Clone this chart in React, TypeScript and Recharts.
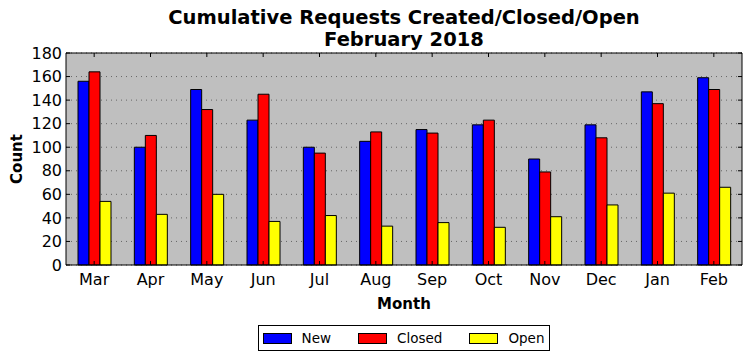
import { BarChart, Bar, XAxis, YAxis, CartesianGrid, Legend } from 'recharts';

const months = ['Mar', 'Apr', 'May', 'Jun', 'Jul', 'Aug', 'Sep', 'Oct', 'Nov', 'Dec', 'Jan', 'Feb'];
const newCounts = [156, 100, 149, 123, 100, 105, 115, 119, 90, 119, 147, 159];
const closedCounts = [164, 110, 132, 145, 95, 113, 112, 123, 79, 108, 137, 149];
const openCounts = [54, 43, 60, 37, 42, 33, 36, 32, 41, 51, 61, 66];
const yTicks = [0, 20, 40, 60, 80, 100, 120, 140, 160, 180];

const data = months.map((month, i) => ({
  month,
  New: newCounts[i],
  Closed: closedCounts[i],
  Open: openCounts[i],
}));

const font = '"DejaVu Sans", sans-serif';

const series = [
  { key: 'New', color: '#0000ff' },
  { key: 'Closed', color: '#ff0000' },
  { key: 'Open', color: '#ffff00' },
];

function LegendBox() {
  return (
    <div style={{ display: 'flex', justifyContent: 'center' }}>
      <div
        style={{
          display: 'flex',
          alignItems: 'center',
          border: '1px solid #000',
          height: 24,
          padding: '0 5px 0 4px',
          fontFamily: font,
          fontSize: 13.5,
          background: '#fff',
        }}
      >
        {series.map((s, i) => (
          <div key={s.key} style={{ display: 'flex', alignItems: 'center', marginLeft: i ? 27 : 0 }}>
            <div style={{ width: 27, height: 9, background: s.color, border: '1px solid #000' }} />
            <span style={{ marginLeft: 10 }}>{s.key}</span>
          </div>
        ))}
      </div>
    </div>
  );
}

export default function App() {
  return (
    <div style={{ position: 'absolute', left: 0, top: 0, width: 752, height: 361, background: '#fff' }}>
      <div
        style={{
          position: 'absolute',
          left: 66,
          width: 676,
          top: 7,
          textAlign: 'center',
          fontFamily: font,
          fontWeight: 'bold',
          fontSize: 19.5,
          lineHeight: '22px',
        }}
      >
        Cumulative Requests Created/Closed/Open
        <br />
        February 2018
      </div>
      <BarChart
        width={752}
        height={361}
        data={data}
        margin={{ top: 52, right: 9, left: 0, bottom: 10 }}
        barSize={11}
        barGap={0}
      >
        <CartesianGrid
          vertical={false}
          fill="#bfbfbf"
          stroke="#666"
          strokeDasharray="1 4"
          strokeWidth={1}
        />
        <XAxis
          dataKey="month"
          height={60}
          axisLine={{ stroke: '#000' }}
          tickLine={{ stroke: '#000' }}
          tickSize={-4}
          tickMargin={13}
          tick={{ fill: '#000', fontSize: 16, fontFamily: font }}
          label={{
            value: 'Month',
            position: 'insideBottom',
            offset: 16,
            style: { fontFamily: font, fontWeight: 'bold', fontSize: 15, fill: '#000' },
          }}
        />
        <XAxis
          xAxisId="top"
          dataKey="month"
          orientation="top"
          height={1}
          axisLine={{ stroke: '#000' }}
          tickLine={{ stroke: '#000' }}
          tickSize={-4}
          tickFormatter={() => ''}
        />
        <YAxis
          width={66}
          domain={[0, 180]}
          ticks={yTicks}
          interval={0}
          axisLine={{ stroke: '#000' }}
          tickLine={{ stroke: '#000' }}
          tickSize={-4}
          tickMargin={8}
          tick={{ fill: '#000', fontSize: 16, fontFamily: font }}
          label={{
            value: 'Count',
            angle: -90,
            position: 'insideLeft',
            offset: 17,
            style: { fontFamily: font, fontWeight: 'bold', fontSize: 15, fill: '#000', textAnchor: 'middle' },
          }}
        />
        <YAxis
          yAxisId="right"
          orientation="right"
          type="number"
          width={1}
          domain={[0, 180]}
          allowDataOverflow
          ticks={yTicks}
          interval={0}
          axisLine={{ stroke: '#000' }}
          tickLine={{ stroke: '#000' }}
          tickSize={-4}
          tickFormatter={() => ''}
        />
        <Legend
          verticalAlign="bottom"
          height={26}
          wrapperStyle={{ left: 66, width: 676 }}
          content={() => <LegendBox />}
        />
        {series.map((s) => (
          <Bar
            key={s.key}
            dataKey={s.key}
            fill={s.color}
            stroke="#000"
            strokeWidth={1}
            isAnimationActive={false}
          />
        ))}
      </BarChart>
    </div>
  );
}
